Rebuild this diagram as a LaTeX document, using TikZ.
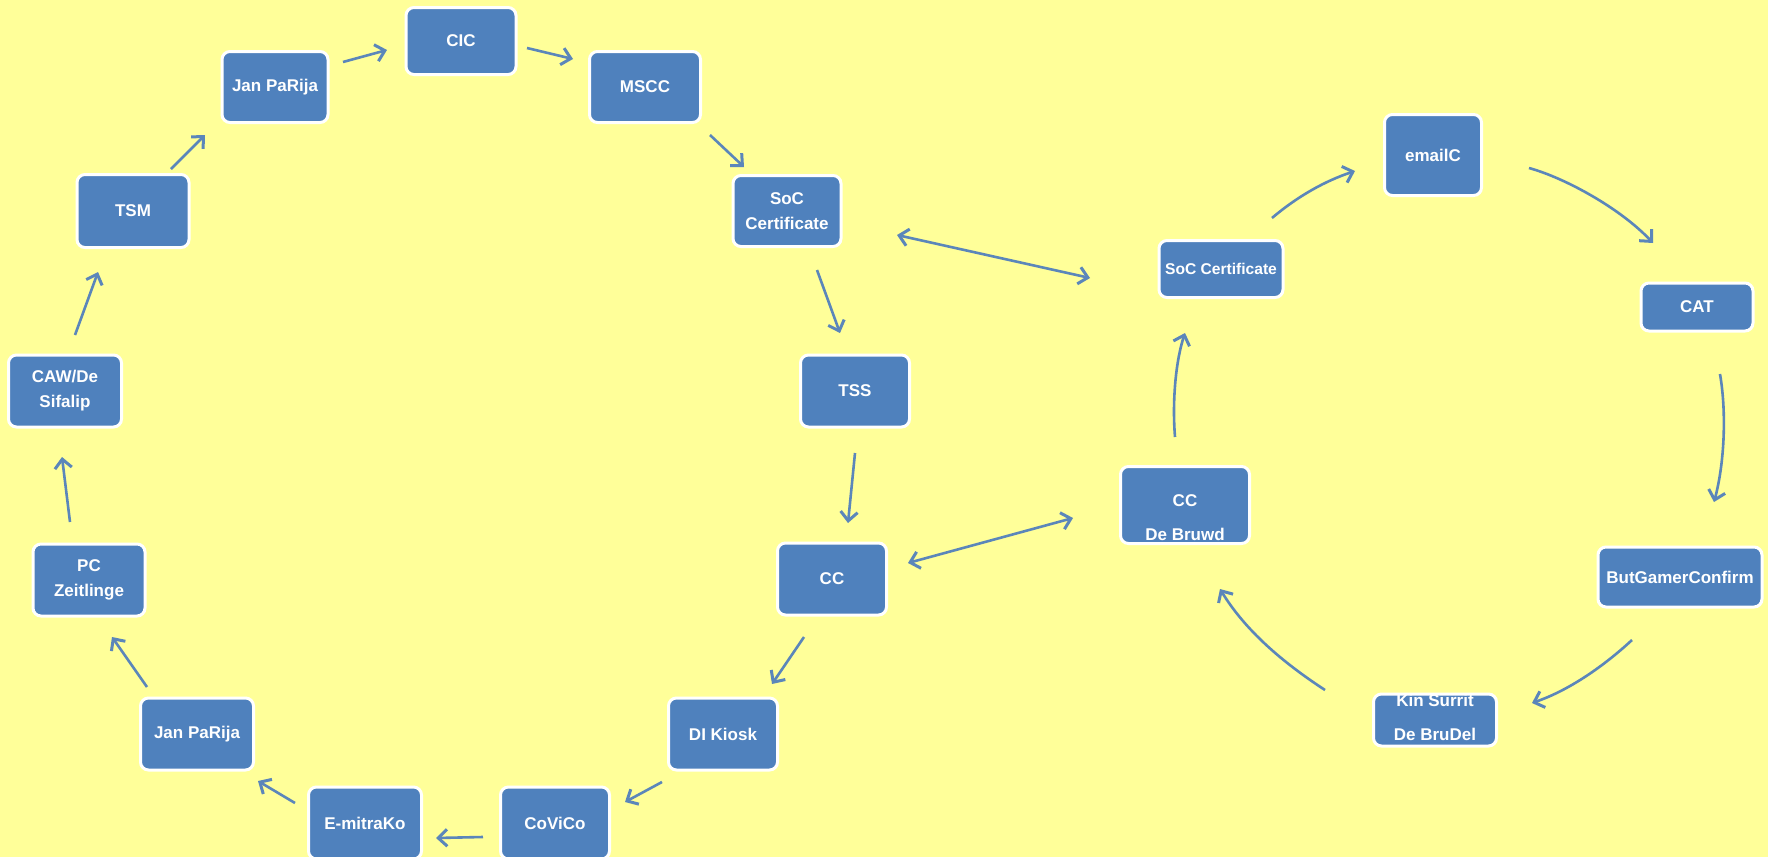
\documentclass[tikz,border=0pt]{standalone}
\usepackage{fontspec}
\setmainfont{Liberation Sans}
\usetikzlibrary{arrows.meta}
\definecolor{bgyellow}{HTML}{FFFF99}
\definecolor{boxblue}{HTML}{4F81BD}
\definecolor{arrblue}{HTML}{5B86BA}
\tikzset{
  box/.style={draw=white, line width=1.5pt, fill=boxblue, rounded corners=4pt,
    text=white, font=\bfseries\fontsize{8.5}{12.5}\selectfont, align=center, inner sep=0pt,
    minimum width=54.5pt, minimum height=36pt},
  boxtext/.style={text=white, font=\bfseries\fontsize{8.5}{17}\selectfont, align=center, inner sep=0pt},
  tip/.tip={Straight Barb[length=4.5pt,width=8.5pt,line width=1.5pt]},
  arr/.style={draw=arrblue, line width=1.3pt, -tip},
  darr/.style={draw=arrblue, line width=1.3pt, tip-tip}
}
\begin{document}
\begin{tikzpicture}[x=0.5pt,y=-0.5pt]
\useasboundingbox (0,0) rectangle (1768,857);
\fill[bgyellow] (0,0) rectangle (1768,857);
\begin{scope}
\clip (0,0) rectangle (1768,857);
% left ring
\node[box, minimum width=55pt, minimum height=33.5pt] (cic) at (461,41) {CIC};
\node[box, minimum width=53pt, minimum height=35.5pt] (janA) at (275,87) {Jan PaRija};
\node[box, minimum width=55.5pt, minimum height=35.5pt] (mcc) at (645,87) {MSCC};
\node[box, minimum width=54pt, minimum height=35.5pt] (socL) at (787,211) {SoC\\Certificate};
\node[box] (tss) at (855,391) {TSS};
\node[box] (ccL) at (832,579) {CC};
\node[box] (di) at (723,734) {DI Kiosk};
\node[box] (cov) at (555,823) {CoViCo};
\node[box, minimum width=56.5pt] (emi) at (365,823) {E-mitraKo};
\node[box, minimum width=56.5pt] (janB) at (197,734) {Jan PaRija};
\node[box, minimum width=56pt] (pc) at (89,580) {PC\\Zeitlinge};
\node[box, minimum width=56.5pt] (caw) at (65,391) {CAW/De\\Sifalip};
\node[box, minimum width=56pt, minimum height=36.5pt] (tsm) at (133,211) {TSM};
% right ring
\node[box, minimum width=48.5pt, minimum height=40.5pt] (email) at (1433,155) {emailC};
\node[box, minimum width=56pt, minimum height=24pt] (cat) at (1697,307) {CAT};
\node[box, minimum width=82pt, minimum height=30pt] (but) at (1680,577) {ButGamerConfirm};
\node[box, minimum width=61.5pt, minimum height=26pt] (rfour) at (1435,720) {};
\node[boxtext] (rfourt) at (1435,717) {Kin Surrit\\De BruDel};
\node[box, minimum width=64.5pt, minimum height=38.5pt] (ccR) at (1185,505) {};
\node[boxtext] (ccRt) at (1185,518) {CC\\De Bruwd};
\node[box, minimum width=62pt, minimum height=28.5pt, font=\bfseries\fontsize{7.8}{10}\selectfont] (socR) at (1221,269) {SoC Certificate};
\end{scope}
% arrow end points
\coordinate (a1s) at (343,62);  \coordinate (a1e) at (387,50);
\coordinate (a2s) at (527,48);  \coordinate (a2e) at (573,59);
\coordinate (a3s) at (710,135); \coordinate (a3e) at (744,167);
\coordinate (a4s) at (817,270); \coordinate (a4e) at (840,333);
\coordinate (a5s) at (855,453); \coordinate (a5e) at (848,523);
\coordinate (a6s) at (804,637); \coordinate (a6e) at (772,684);
\coordinate (a7s) at (662,782); \coordinate (a7e) at (625,802);
\coordinate (a8s) at (483,837); \coordinate (a8e) at (436,838);
\coordinate (a9s) at (295,803); \coordinate (a9e) at (258,781);
\coordinate (a10s) at (147,687); \coordinate (a10e) at (112,637);
\coordinate (a11s) at (70,522); \coordinate (a11e) at (62,457);
\coordinate (a12s) at (75,335); \coordinate (a12e) at (98,272);
\coordinate (a13s) at (171,169); \coordinate (a13e) at (205,135);
\coordinate (d1s) at (897,235); \coordinate (d1e) at (1090,278);
\coordinate (d2s) at (908,563); \coordinate (d2e) at (1073,518);
\coordinate (c1s) at (1272,218); \coordinate (c1e) at (1355,171);
\coordinate (c2s) at (1529,168); \coordinate (c2e) at (1653,243);
\coordinate (c3s) at (1720,374); \coordinate (c3e) at (1714,502);
\coordinate (c4s) at (1632,640); \coordinate (c4e) at (1532,703);
\coordinate (c5s) at (1325,690); \coordinate (c5e) at (1220,589);
\coordinate (c6s) at (1175,437); \coordinate (c6e) at (1185,333);
% left ring arrows
\draw[arr] (a1s) -- (a1e);
\draw[arr] (a2s) -- (a2e);
\draw[arr] (a3s) -- (a3e);
\draw[arr] (a4s) -- (a4e);
\draw[arr] (a5s) -- (a5e);
\draw[arr] (a6s) -- (a6e);
\draw[arr] (a7s) -- (a7e);
\draw[arr] (a8s) -- (a8e);
\draw[arr] (a9s) -- (a9e);
\draw[arr] (a10s) -- (a10e);
\draw[arr] (a11s) -- (a11e);
\draw[arr] (a12s) -- (a12e);
\draw[arr] (a13s) -- (a13e);
% links between rings
\draw[darr] (d1s) -- (d1e);
\draw[darr] (d2s) -- (d2e);
% right ring arrows
\draw[arr] (c1s) .. controls (1298,196) and (1325,181) .. (c1e);
\draw[arr] (c2s) .. controls (1565,178) and (1620,208) .. (c2e);
\draw[arr] (c3s) .. controls (1727,415) and (1724,465) .. (c3e);
\draw[arr] (c4s) .. controls (1605,665) and (1570,690) .. (c4e);
\draw[arr] (c5s) .. controls (1282,662) and (1245,630) .. (c5e);
\draw[arr] (c6s) .. controls (1172,400) and (1176,360) .. (c6e);
\end{tikzpicture}
\end{document}
